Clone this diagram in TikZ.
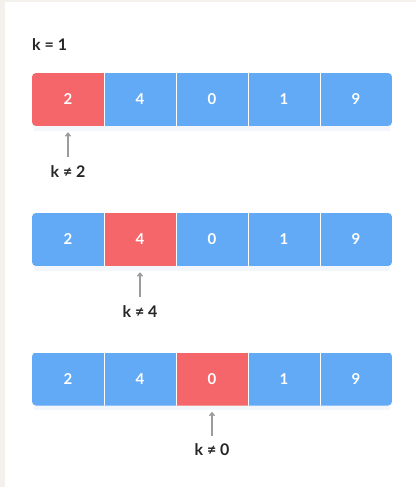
\documentclass[tikz,border=0pt]{standalone}
\usepackage{fontspec}
\setmainfont{Lato}
\usetikzlibrary{positioning, arrows.meta}
\definecolor{fond}{HTML}{F4F1EC}
\definecolor{bleu}{HTML}{62AAF6}
\definecolor{rouge}{HTML}{F5666B}
\definecolor{gris}{HTML}{9C9C9C}
\definecolor{ombre}{HTML}{F3F6FA}

\begin{document}
\begin{tikzpicture}[x=1pt,y=-1pt,
  case/.style={minimum width=72pt, minimum height=53pt, inner sep=0pt, text=white,
    font=\bfseries\fontsize{15}{15}\selectfont},
  etiquette/.style={font=\bfseries\fontsize{16}{16}\selectfont, text=black!85, inner sep=1pt},
  fleche/.style={draw=gris, line width=1.4pt, -{Straight Barb[length=3pt, width=5pt]},
    shorten <=7pt, shorten >=6pt},
  separation/.style={draw=white, line width=0.9pt}]

%% cadre
\useasboundingbox (0,0) rectangle (416,487);
\fill[fond] (0,0) rectangle (416,487);
\fill[white] (5,2) rectangle (416,487);

\node[etiquette, anchor=west] (titre) at (31,45) {k = 1};

%% trois passages : ligne / y du centre / case comparee
\foreach \ligne/\yc/\rang in {1/99.5/1, 2/239.5/2, 3/379/3} {
  \fill[ombre] (34,\yc+25) rectangle (390,\yc+31);
  \begin{scope}
    \clip[rounded corners=4pt] (32,\yc-26.5) rectangle (392,\yc+26.5);
    \foreach \v [count=\i] in {2,4,0,1,9} {
      \ifnum\i=\rang \def\teinte{rouge}\else\def\teinte{bleu}\fi
      \node[case, fill=\teinte] (c-\ligne-\i) at (68+72*\i-72,\yc) {\v};}
    \foreach \i in {1,...,4}
      \draw[separation] (c-\ligne-\i.north east) -- (c-\ligne-\i.south east);
  \end{scope}
}

%% comparaisons
\node[etiquette, below=38pt of c-1-1.south] (test-1) {k ≠ 2};
\node[etiquette, below=38pt of c-2-2.south] (test-2) {k ≠ 4};
\node[etiquette, below=37pt of c-3-3.south] (test-3) {k ≠ 0};
\foreach \n in {1,2,3}
  \draw[fleche] (test-\n) -- (c-\n-\n);
\end{tikzpicture}
\end{document}
